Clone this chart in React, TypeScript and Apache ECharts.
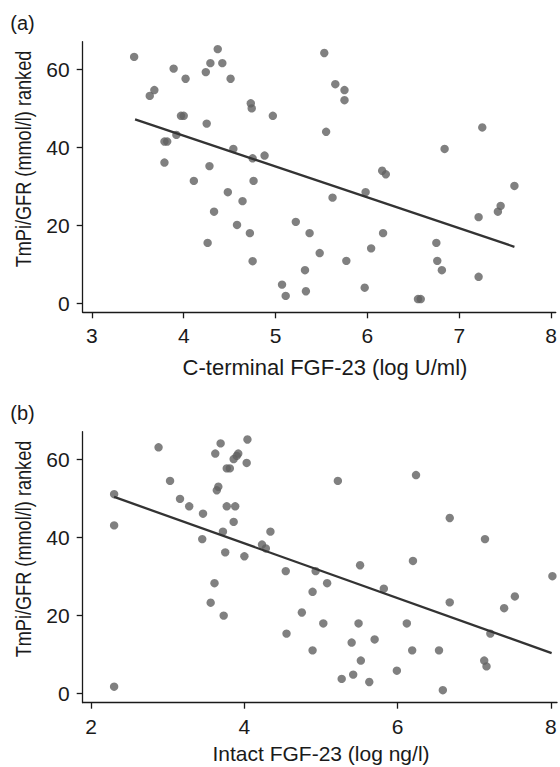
import React, { useEffect, useRef } from "react";
import * as echarts from "echarts";

// Panel (a): C-terminal FGF-23 (log U/ml) vs TmPi/GFR ranked
const aX = [3.46, 3.63, 3.68, 3.89, 4.02, 3.97, 4.0, 3.92, 3.79, 3.82, 3.79, 4.28, 4.24, 4.29, 4.37, 4.42, 4.51, 4.25, 4.54, 4.73, 4.74, 4.75, 4.88, 4.97,
  5.53, 5.65, 5.75, 5.75, 5.55, 7.25, 6.84,
  4.11, 4.76, 4.48, 4.64, 4.33, 4.58, 4.72, 4.26, 4.75, 5.07, 5.11, 5.22,
  6.16, 6.2, 5.62, 5.98, 5.37, 5.48, 5.77, 5.32, 5.33, 6.04, 6.17, 5.97, 6.55, 6.58, 6.75, 6.76, 6.81, 7.21, 7.21, 7.42, 7.45, 7.6];
const aY = [63.2, 53.2, 54.7, 60.2, 57.6, 48.1, 48.1, 43.2, 41.5, 41.5, 36.1, 35.2, 59.3, 61.6, 65.2, 61.6, 57.6, 46.1, 39.6, 51.3, 50.0, 37.2, 37.9, 48.1,
  64.2, 56.2, 54.7, 52.1, 44.0, 45.1, 39.6,
  31.4, 31.4, 28.5, 26.2, 23.5, 20.1, 18.0, 15.5, 10.8, 4.8, 1.9, 20.9,
  34.0, 33.1, 27.1, 28.5, 18.0, 12.9, 10.9, 8.5, 3.1, 14.1, 18.0, 4.0, 1.1, 1.1, 15.5, 10.9, 8.5, 22.1, 6.8, 23.5, 25.0, 30.1];
const aFitX = [3.47, 7.6];
const aFitY = [47.2, 14.5];

// Panel (b): Intact FGF-23 (log ng/l) vs TmPi/GFR ranked
const bX = [2.3, 2.3, 2.88, 3.03, 3.16, 3.28, 3.46, 3.45, 3.62, 3.69, 3.64, 3.66, 3.77, 3.81, 3.77, 3.88, 3.86, 3.72, 3.86, 3.9, 3.92, 4.03, 4.04, 4.34, 4.23, 4.28, 3.75, 4.0,
  4.54, 3.61, 3.56, 3.73, 4.55, 2.3,
  4.93, 5.51, 6.2, 5.08, 4.89, 5.82, 4.75, 6.68, 5.03, 5.49, 6.12, 4.89, 5.4, 5.7, 6.19, 6.54, 5.52, 5.27, 5.42, 5.63, 5.99, 6.59, 7.13, 7.16, 7.21, 7.39, 7.53, 8.02,
  5.22, 6.24, 6.68, 7.14];
const bY = [51.1, 43.1, 63.1, 54.5, 49.9, 48.0, 46.1, 39.6, 61.5, 64.1, 52.1, 53.0, 57.7, 57.7, 48.0, 48.0, 44.0, 41.5, 60.1, 60.9, 61.5, 59.1, 65.1, 41.5, 38.2, 37.2, 36.2, 35.2,
  31.4, 28.3, 23.3, 20.0, 15.4, 1.8,
  31.4, 32.9, 34.0, 28.3, 26.1, 26.9, 20.8, 23.4, 18.0, 18.0, 18.0, 11.1, 13.1, 13.9, 11.1, 11.1, 8.5, 3.8, 4.9, 3.0, 5.9, 0.9, 8.5, 7.0, 15.4, 21.9, 24.9, 30.1,
  54.5, 56.0, 45.0, 39.6];
const bFitX = [2.3, 8.01];
const bFitY = [50.4, 10.4];

const aTicks = [3, 4, 5, 6, 7, 8];
const bTicks = [2, 4, 6, 8];
const yTicks = [0, 20, 40, 60];

const aTitle = "C-terminal FGF-23 (log U/ml)";
const bTitle = "Intact FGF-23 (log ng/l)";
const yTitle = "TmPi/GFR (mmol/l) ranked";
const panelLabels = ["(a)", "(b)"];

const FONT = "Liberation Sans, Arial, Helvetica, sans-serif";
const INK = "#1a1a1a";

function pairs(xs: number[], ys: number[]) {
  return xs.map((x, i) => [x, ys[i]]);
}

function xAxisCfg(gridIndex: number, min: number, max: number, ticks: number[]) {
  return {
    type: "value",
    gridIndex,
    min,
    max,
    splitLine: { show: false },
    axisLine: { show: true, onZero: false, lineStyle: { color: INK, width: 1.3 } },
    axisTick: { show: true, length: 6, customValues: ticks, lineStyle: { color: INK, width: 1.3 } },
    axisLabel: { customValues: ticks, margin: 13, fontFamily: FONT, fontSize: 21, color: INK },
  };
}

function yAxisCfg(gridIndex: number) {
  return {
    type: "value",
    gridIndex,
    min: -2.3,
    max: 67.1,
    splitLine: { show: false },
    axisLine: { show: true, onZero: false, lineStyle: { color: INK, width: 1.3 } },
    axisTick: { show: true, length: 6, customValues: yTicks, lineStyle: { color: INK, width: 1.3 } },
    axisLabel: { customValues: yTicks, margin: 13, fontFamily: FONT, fontSize: 21, color: INK },
  };
}

function centeredText(text: string, x: number, y: number, size: number, extra: any = {}) {
  return {
    type: "text",
    x,
    y,
    ...extra,
    style: {
      text,
      font: `${size}px ${FONT}`,
      fill: INK,
      align: "center",
      verticalAlign: "middle",
    },
  };
}

export default function App() {
  const ref = useRef<HTMLDivElement>(null);
  useEffect(() => {
    document.body.style.margin = "0";
    if (!ref.current) return;
    const chart = echarts.init(ref.current, null, { renderer: "svg" });
    const scatterStyle = { color: "#606060" };
    chart.setOption({
      animation: false,
      backgroundColor: "#ffffff",
      grid: [
        { left: 82.7, top: 41.7, width: 474.3, height: 270.6 },
        { left: 82.7, top: 431.7, width: 474.3, height: 271 },
      ],
      xAxis: [
        xAxisCfg(0, 2.9, 8.05, aTicks),
        xAxisCfg(1, 1.89, 8.08, bTicks),
      ],
      yAxis: [yAxisCfg(0), yAxisCfg(1)],
      graphic: [
        centeredText(panelLabels[0], 22.5, 22.5, 20),
        centeredText(panelLabels[1], 22.5, 412.5, 20),
        centeredText(aTitle, 325, 367, 22),
        centeredText(bTitle, 321, 753, 21),
        centeredText(yTitle, 23, 159, 22, { rotation: Math.PI / 2, scaleX: 0.825 }),
        centeredText(yTitle, 23, 549, 22, { rotation: Math.PI / 2, scaleX: 0.825 }),
      ],
      series: [
        {
          type: "scatter", xAxisIndex: 0, yAxisIndex: 0, symbolSize: 8.4,
          itemStyle: scatterStyle, data: pairs(aX, aY),
        },
        {
          type: "line", xAxisIndex: 0, yAxisIndex: 0, showSymbol: false,
          lineStyle: { color: "#333333", width: 2.3 }, data: pairs(aFitX, aFitY),
        },
        {
          type: "scatter", xAxisIndex: 1, yAxisIndex: 1, symbolSize: 8.4,
          itemStyle: scatterStyle, data: pairs(bX, bY),
        },
        {
          type: "line", xAxisIndex: 1, yAxisIndex: 1, showSymbol: false,
          lineStyle: { color: "#333333", width: 2.3 }, data: pairs(bFitX, bFitY),
        },
      ],
    });
    return () => chart.dispose();
  }, []);
  return <div ref={ref} style={{ width: 560, height: 767 }} />;
}
